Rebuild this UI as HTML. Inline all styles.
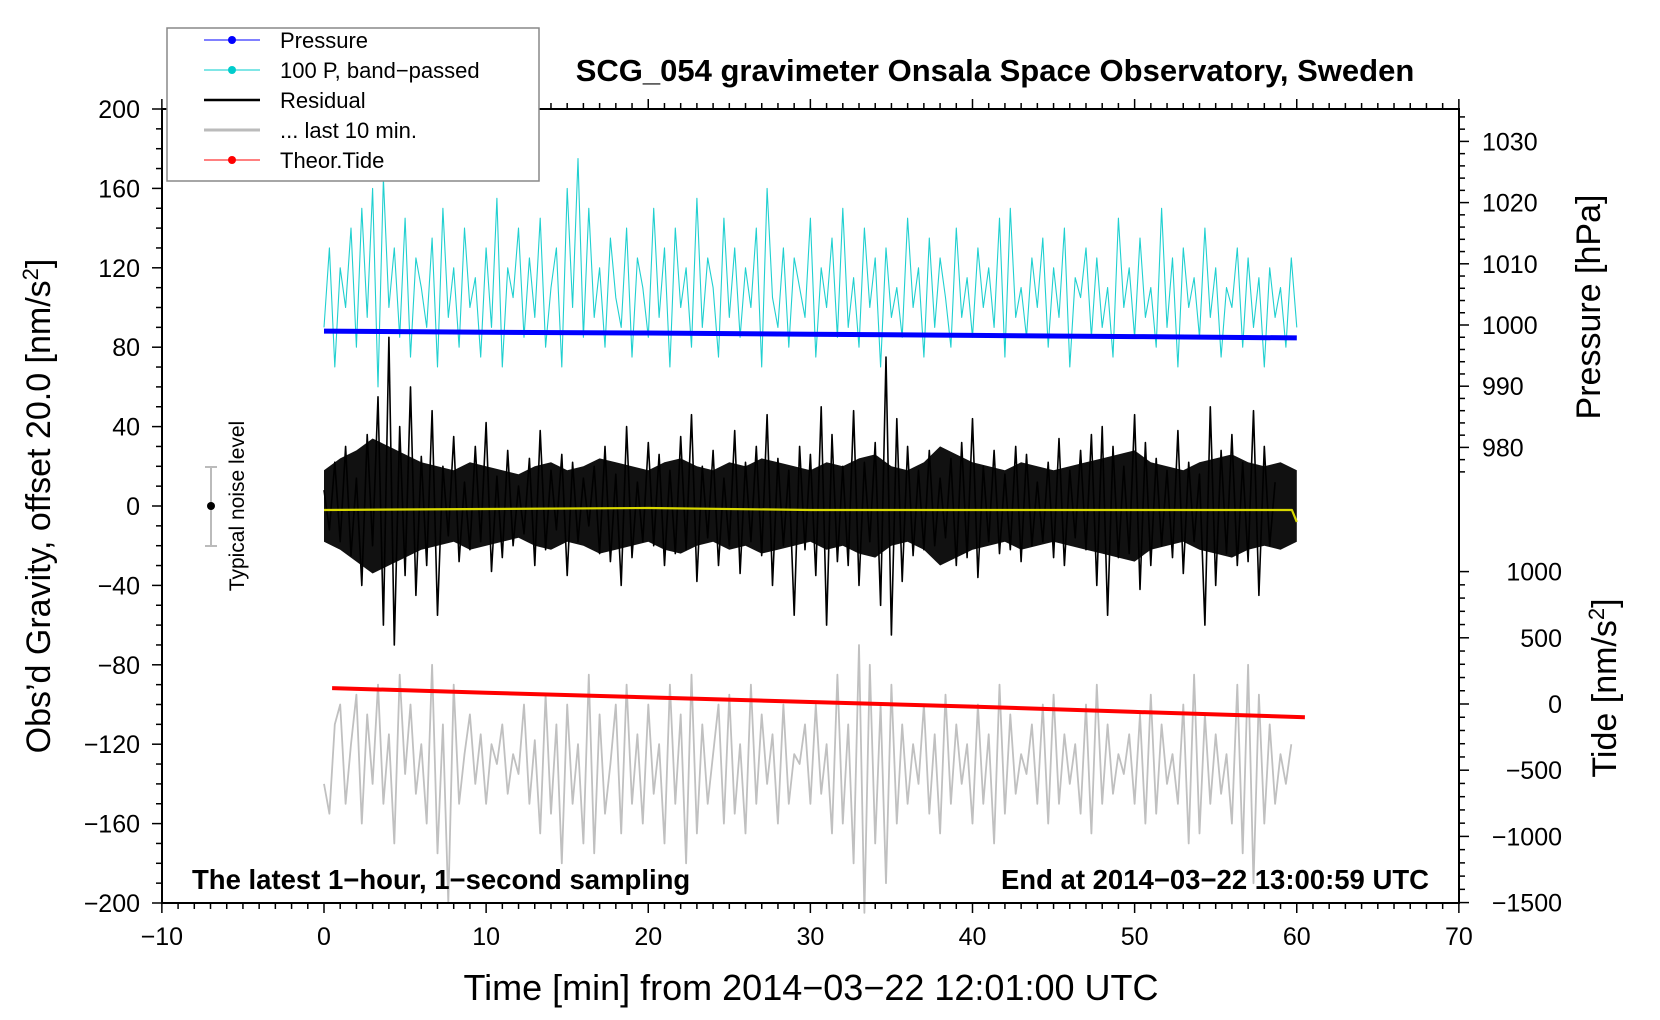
<!DOCTYPE html>
<html><head><meta charset="utf-8"><style>
html,body{margin:0;padding:0;background:#fff}
svg{display:block;font-family:"Liberation Sans",sans-serif}
</style></head><body>
<svg id="c" width="1660" height="1020" viewBox="0 0 1660 1020">
<g id="series"></g>
<g id="axes"></g>
<rect x="162" y="109" width="1297" height="794" fill="none" stroke="#000" stroke-width="2"/>
<text x="995" y="81" text-anchor="middle" font-size="31" font-weight="bold">SCG_054 gravimeter Onsala Space Observatory, Sweden</text>
<text x="192" y="889" font-size="27.5" font-weight="bold">The latest 1−hour, 1−second sampling</text>
<text x="1429" y="889" text-anchor="end" font-size="27.5" font-weight="bold">End at 2014−03−22 13:00:59 UTC</text>
<text x="811" y="1000" text-anchor="middle" font-size="36">Time [min] from 2014−03−22 12:01:00 UTC</text>
<text transform="translate(50,506) rotate(-90)" text-anchor="middle" font-size="34">Obs’d Gravity, offset 20.0 [nm/s<tspan baseline-shift="super" font-size="22">2</tspan>]</text>
<text transform="translate(1600,307) rotate(-90)" text-anchor="middle" font-size="34">Pressure [hPa]</text>
<text transform="translate(1616,688) rotate(-90)" text-anchor="middle" font-size="34">Tide [nm/s<tspan baseline-shift="super" font-size="22">2</tspan>]</text>
<g>
<line x1="211" y1="467" x2="211" y2="546" stroke="#bbb" stroke-width="2"/>
<line x1="205" y1="467" x2="217" y2="467" stroke="#bbb" stroke-width="2"/>
<line x1="205" y1="546" x2="217" y2="546" stroke="#bbb" stroke-width="2"/>
<circle cx="211" cy="506" r="4" fill="#000"/>
<text transform="translate(244,506) rotate(-90)" text-anchor="middle" font-size="21">Typical noise level</text>
</g>
<g>
<rect x="167" y="28" width="372" height="153" fill="#fff" stroke="#888" stroke-width="1.5"/>
<g><line x1="204" y1="40" x2="260" y2="40" stroke="#00f"/><circle cx="232" cy="40" r="4" fill="#00f"/><text x="280" y="48" font-size="22">Pressure</text></g>
<g><line x1="204" y1="70" x2="260" y2="70" stroke="#0cc"/><circle cx="232" cy="70" r="4" fill="#0cc"/><text x="280" y="78" font-size="22">100 P, band−passed</text></g>
<g><line x1="204" y1="100" x2="260" y2="100" stroke="#000" stroke-width="2.5"/><text x="280" y="108" font-size="22">Residual</text></g>
<g><line x1="204" y1="130" x2="260" y2="130" stroke="#bbb" stroke-width="3"/><text x="280" y="138" font-size="22">... last 10 min.</text></g>
<g><line x1="204" y1="160" x2="260" y2="160" stroke="#f00"/><circle cx="232" cy="160" r="4" fill="#f00"/><text x="280" y="168" font-size="22">Theor.Tide</text></g>
</g>
</svg>
<script>
// ---- data (one sample every 20 s, t = i/3 min) ----
const residual = [8,-12,22,-18,30,-25,14,-40,36,-20,55,-60,85,-70,40,-35,60,-45,25,-30,48,-55,20,-15,35,-28,12,-22,30,-18,42,-33,15,-26,28,-20,10,-14,24,-30,38,-22,18,-12,26,-35,22,-18,14,-10,20,-24,30,-28,16,-40,40,-26,12,-18,32,-20,26,-30,18,-24,35,-22,46,-38,20,-16,28,-30,14,-20,38,-34,22,-18,30,-25,46,-40,24,-20,18,-55,30,-22,26,-35,50,-60,36,-28,20,-30,48,-40,22,-18,32,-50,75,-65,44,-38,30,-25,18,-22,28,-20,14,-16,24,-30,32,-26,44,-36,20,-18,28,-24,16,-22,30,-28,26,-20,12,-18,22,-26,34,-30,18,-16,28,-22,36,-40,40,-55,30,-26,20,-24,46,-42,32,-30,24,-20,18,-26,38,-34,22,-18,16,-60,50,-40,28,-24,36,-30,22,-28,48,-45,30,-20,12];
// dense-band envelope of the residual, one value per minute (0..60)
const residualEnvUpper = [18,24,28,34,30,26,22,20,18,22,20,18,16,20,22,18,20,24,22,20,18,22,24,20,18,22,20,24,22,20,18,22,20,24,26,20,18,22,30,26,22,20,18,22,20,18,20,22,24,26,28,22,20,18,22,24,26,22,20,22,18];
const residualEnvLower = [-18,-22,-28,-34,-30,-26,-22,-20,-18,-22,-20,-18,-16,-20,-22,-18,-20,-24,-22,-20,-18,-22,-24,-20,-18,-22,-20,-24,-22,-20,-18,-22,-20,-24,-26,-20,-18,-22,-30,-26,-22,-20,-18,-22,-20,-18,-20,-22,-24,-26,-28,-22,-20,-18,-22,-24,-26,-22,-20,-22,-18];
const bandpassed = [90,130,70,120,100,140,80,150,95,160,60,165,100,130,85,145,75,125,110,90,135,70,150,95,120,80,140,100,115,75,130,90,155,70,120,105,140,85,125,95,145,80,110,130,70,160,100,175,85,150,95,120,80,135,105,90,140,75,125,110,85,150,95,130,70,140,100,120,80,155,90,125,110,75,145,95,130,85,120,100,140,70,160,105,90,130,80,125,110,95,145,75,120,100,135,85,150,90,115,80,140,100,125,70,130,95,110,85,145,100,120,75,135,90,125,105,80,140,95,115,85,130,100,120,90,145,75,150,95,110,85,125,100,135,80,120,95,140,70,115,105,130,85,125,90,110,75,145,100,120,85,135,95,110,80,150,90,125,70,130,100,115,85,140,95,120,75,110,100,130,80,125,90,115,70,120,95,110,80,125,90];
const last10 = [-140,-155,-110,-100,-150,-120,-95,-160,-105,-140,-90,-150,-115,-170,-85,-135,-100,-145,-120,-160,-80,-175,-110,-200,-90,-150,-125,-105,-140,-115,-150,-120,-130,-110,-145,-125,-135,-100,-150,-118,-165,-95,-155,-110,-180,-100,-150,-120,-170,-85,-175,-105,-155,-130,-100,-165,-90,-150,-115,-160,-100,-145,-120,-170,-90,-150,-105,-180,-85,-165,-110,-150,-125,-100,-160,-95,-155,-120,-165,-90,-150,-105,-140,-115,-160,-100,-150,-125,-130,-110,-150,-100,-145,-120,-165,-85,-160,-110,-180,-70,-205,-80,-170,-100,-190,-90,-160,-110,-150,-120,-140,-100,-155,-115,-165,-95,-150,-110,-140,-120,-160,-100,-150,-115,-170,-90,-155,-105,-145,-125,-135,-110,-150,-100,-160,-95,-150,-115,-140,-120,-155,-100,-165,-90,-150,-110,-145,-125,-135,-115,-150,-105,-160,-95,-155,-110,-140,-125,-150,-100,-170,-85,-165,-105,-150,-115,-145,-125,-160,-90,-175,-80,-190,-95,-160,-110,-150,-125,-140,-120];
const pressureT = [0,10,20,30,40,50,60];
const pressureV = [999.0,998.8,998.7,998.5,998.3,998.1,997.9];
const tideT = [0.5,10,20,30,40,50,60.5];
const tideV = [120,85,50,15,-20,-60,-100];
const meanT = [0,10,20,30,40,50,59.7,60];
const meanV = [-2,-1.5,-1,-2,-2,-2,-2,-8];
const xTicks = [-10,0,10,20,30,40,50,60,70];
const yTicks = [200,160,120,80,40,0,-40,-80,-120,-160,-200];
const pTicks = [1030,1020,1010,1000,990,980];
const tTicks = [1000,500,0,-500,-1000,-1500];

// ---- scales ----
const X = t => 324 + t*16.2125;
const Y = v => 506 - v*1.985;
const P = v => 325 - (v-1000)*6.12;
const T = v => 704 - v*0.1324;
const NS='http://www.w3.org/2000/svg';
const ser=document.getElementById('series'), ax=document.getElementById('axes');
function mk(tag,attrs,parent){const e=document.createElementNS(NS,tag);for(const k in attrs)e.setAttribute(k,attrs[k]);parent.appendChild(e);return e;}
function line(ts,vs,sy,stroke,w,name){
  const pts=ts.map((t,i)=>X(t).toFixed(1)+','+sy(vs[i]).toFixed(1)).join(' ');
  const e=mk('polyline',{points:pts,fill:'none',stroke:stroke,'stroke-width':w,'stroke-linejoin':'round'},ser);
  
  
}
const idxT = a => a.map((_,i)=>i/3);
line(idxT(last10),last10,Y,'#c0c0c0',1.8,'last-10-min-line');
line(idxT(bandpassed),bandpassed,Y,'#20d0d0',1.1,'bandpassed-pressure-line');
// residual envelope band
{
  const up=residualEnvUpper.map((v,i)=>X(i).toFixed(1)+','+Y(v).toFixed(1));
  const lo=residualEnvLower.map((v,i)=>X(i).toFixed(1)+','+Y(v).toFixed(1)).reverse();
  const e=mk('polygon',{points:up.concat(lo).join(' '),fill:'#111'},ser);
  
  
}
line(idxT(residual),residual,Y,'#000',1.6,'residual-line');
line(meanT,meanV,Y,'#d8d800',2.2,'residual-mean-line');
line(pressureT,pressureV,P,'#0000ff',5,'pressure-line');
line(tideT,tideV,T,'#ff0000',4,'tide-line');

// ---- axes ----
function txt(x,y,s,anchor,size,name){const e=mk('text',{x:x,y:y,'text-anchor':anchor,'font-size':size},ax);e.textContent=s;
  
  }
const fmt=v=>String(v).replace('-','−');
for(let t=-10;t<=70;t++){const big=t%10===0;const x=X(t);
  mk('line',{x1:x,y1:903,x2:x,y2:903+(big?10:6),stroke:'#000','stroke-width':1.5},ax);
  mk('line',{x1:x,y1:109,x2:x,y2:109-(big?10:6),stroke:'#000','stroke-width':1.5},ax);}
xTicks.forEach(t=>txt(X(t),945,fmt(t),'middle',25,'x-tick-label'));
for(let v=-200;v<=200;v+=10){const big=v%40===0;
  mk('line',{x1:162,y1:Y(v),x2:162-(big?10:6),y2:Y(v),stroke:'#000','stroke-width':1.5},ax);}
yTicks.forEach(v=>txt(140,Y(v)+9,fmt(v),'end',25,'y-tick-label'));
for(let v=976;v<=1034;v+=2){const big=v%10===0;
  mk('line',{x1:1459,y1:P(v),x2:1459+(big?10:6),y2:P(v),stroke:'#000','stroke-width':1.5},ax);}
pTicks.forEach(v=>txt(1482,P(v)+9,fmt(v),'start',25,'pressure-tick-label'));
for(let v=-1500;v<=1000;v+=100){const big=v%500===0;
  mk('line',{x1:1459,y1:T(v),x2:1459+(big?10:6),y2:T(v),stroke:'#000','stroke-width':1.5},ax);}
tTicks.forEach(v=>txt(1562,T(v)+9,fmt(v),'end',25,'tide-tick-label'));
</script>
</body></html>
